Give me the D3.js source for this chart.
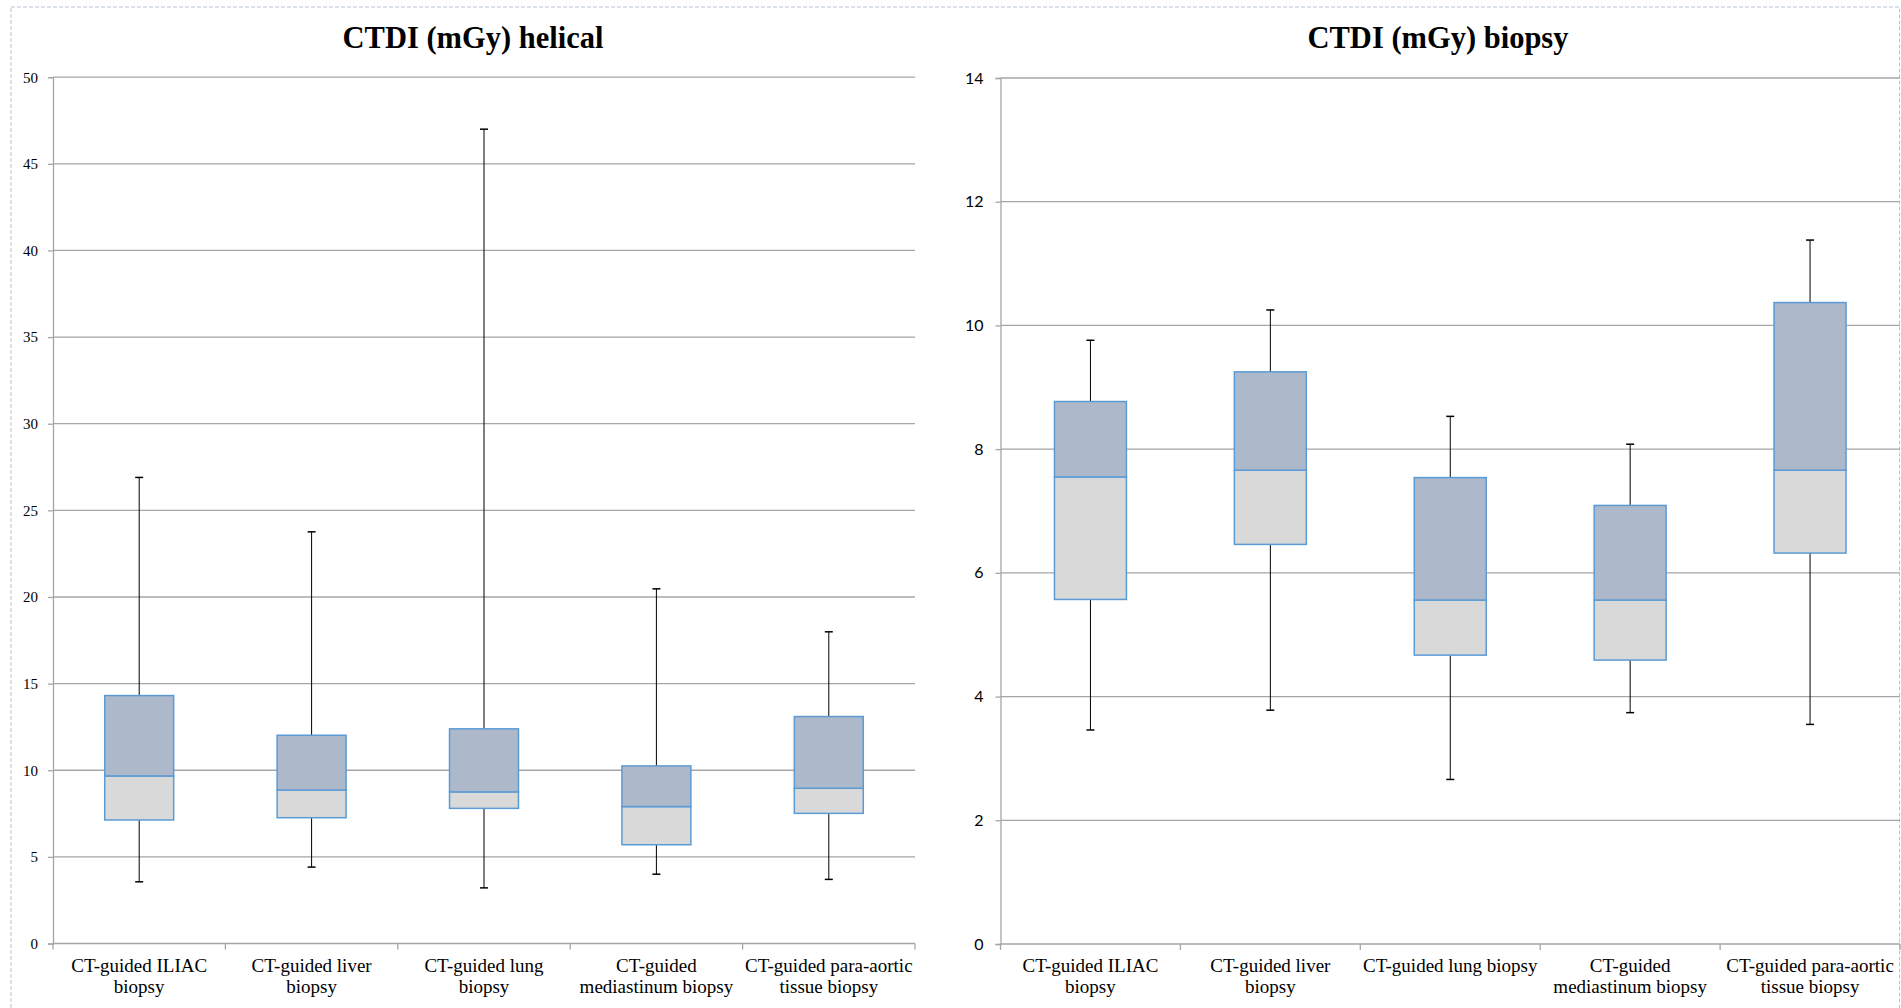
<!DOCTYPE html>
<html lang="en">
<head>
  <meta charset="UTF-8">
  <title>CTDI (mGy) helical / biopsy</title>
  <script src="https://d3js.org/d3.v7.min.js"></script>
  <style>
    body { margin: 0; background: #fff; }
    svg { display: block; }
  </style>
</head>
<body>
  <div id="chart"></div>

  <script>
    // categories (tick label lines for each panel)
    const categories = ["iliac", "liver", "lung", "mediastinum", "paraaortic"];
    const labelsHelical = [
      ["CT-guided ILIAC", "biopsy"],
      ["CT-guided liver", "biopsy"],
      ["CT-guided lung", "biopsy"],
      ["CT-guided", "mediastinum biopsy"],
      ["CT-guided para-aortic", "tissue biopsy"]
    ];
    const labelsBiopsy = [
      ["CT-guided ILIAC", "biopsy"],
      ["CT-guided liver", "biopsy"],
      ["CT-guided lung biopsy"],
      ["CT-guided", "mediastinum biopsy"],
      ["CT-guided para-aortic", "tissue biopsy"]
    ];

    // CTDI helical: min, Q1, median, Q3, max
    const helicalMin    = [3.56, 4.41, 3.21, 4.0, 3.7];
    const helicalQ1     = [7.13, 7.26, 7.8, 5.7, 7.51];
    const helicalMedian = [9.67, 8.86, 8.75, 7.9, 8.96];
    const helicalQ3     = [14.31, 12.02, 12.39, 10.25, 13.1];
    const helicalMax    = [26.9, 23.76, 47.0, 20.47, 17.99];

    // CTDI biopsy: min, Q1, median, Q3, max
    const biopsyMin    = [3.46, 3.78, 2.66, 3.74, 3.55];
    const biopsyQ1     = [5.57, 6.46, 4.67, 4.59, 6.32];
    const biopsyMedian = [7.55, 7.66, 5.56, 5.56, 7.66];
    const biopsyQ3     = [8.77, 9.25, 7.54, 7.09, 10.37];
    const biopsyMax    = [9.76, 10.25, 8.53, 8.08, 11.38];

    const helicalTicks = [0, 5, 10, 15, 20, 25, 30, 35, 40, 45, 50];
    const biopsyTicks  = [0, 2, 4, 6, 8, 10, 12, 14];

    const W = 1901, H = 1008;
    const svg = d3.select("#chart").append("svg")
      .attr("width", W).attr("height", H);

    // outer frame
    svg.append("rect")
      .attr("x", 11).attr("y", 7)
      .attr("width", 1888.5).attr("height", H + 10)
      .attr("fill", "none")
      .attr("stroke", "#b8c3d4")
      .attr("stroke-width", 1)
      .attr("stroke-dasharray", "4,2");

    function panel(opt) {
      const rows = categories.map((c, i) => ({
        key: c, lines: opt.labels[i],
        min: opt.min[i], q1: opt.q1[i], med: opt.median[i], q3: opt.q3[i], max: opt.max[i]
      }));

      const x = d3.scaleBand().domain(categories).range([opt.left, opt.right]).paddingInner(0).paddingOuter(0);
      const y = d3.scaleLinear().domain([0, opt.ticks[opt.ticks.length - 1]]).range([opt.bottom, opt.top]);

      const g = svg.append("g");

      // gridlines
      g.selectAll(".grid").data(opt.ticks.slice(1)).enter().append("line")
        .attr("x1", opt.left).attr("x2", opt.right)
        .attr("y1", d => y(d)).attr("y2", d => y(d))
        .attr("stroke", "#a6a6a6").attr("stroke-width", 1.3);

      // y axis
      const yAxis = d3.axisLeft(y).tickValues(opt.ticks).tickSize(5).tickPadding(opt.yPad).tickFormat(d3.format("d"));
      const ya = g.append("g").attr("transform", `translate(${opt.left},0)`).call(yAxis);
      ya.select(".domain").attr("stroke", "#a6a6a6").attr("stroke-width", 1.3);
      ya.selectAll(".tick line").attr("stroke", "#a6a6a6").attr("stroke-width", 1.3);
      ya.selectAll("text")
        .style("font-family", opt.yFont).style("font-size", opt.yFontSize + "px").attr("fill", "#000");

      // x axis line and boundary ticks
      g.append("line")
        .attr("x1", opt.left).attr("x2", opt.right)
        .attr("y1", y(0)).attr("y2", y(0))
        .attr("stroke", "#a6a6a6").attr("stroke-width", 1.3);
      const bounds = categories.map(c => x(c)).concat([opt.right]);
      g.selectAll(".xtick").data(bounds).enter().append("line")
        .attr("x1", d => d).attr("x2", d => d)
        .attr("y1", y(0)).attr("y2", y(0) + 6)
        .attr("stroke", "#a6a6a6").attr("stroke-width", 1.3);

      // category labels
      const lab = g.selectAll(".xlab").data(rows).enter().append("text")
        .attr("x", d => x(d.key) + x.bandwidth() / 2)
        .attr("y", y(0) + 28)
        .attr("text-anchor", "middle")
        .style("font-family", "'Liberation Serif', 'Times New Roman', serif")
        .style("font-size", "19px")
        .attr("fill", "#000");
      lab.each(function(d) {
        d3.select(this).selectAll("tspan").data(d.lines).enter().append("tspan")
          .attr("x", x(d.key) + x.bandwidth() / 2)
          .attr("dy", (l, i) => i === 0 ? 0 : 21)
          .text(l => l);
      });

      const bw = x.bandwidth() * 0.4;
      const cx = d => x(d.key) + x.bandwidth() / 2;

      // whiskers
      g.selectAll(".wup").data(rows).enter().append("line")
        .attr("x1", cx).attr("x2", cx)
        .attr("y1", d => y(d.q3)).attr("y2", d => y(d.max))
        .attr("stroke", "#000").attr("stroke-width", 1);
      g.selectAll(".wlo").data(rows).enter().append("line")
        .attr("x1", cx).attr("x2", cx)
        .attr("y1", d => y(d.q1)).attr("y2", d => y(d.min))
        .attr("stroke", "#000").attr("stroke-width", 1);
      ["max", "min"].forEach(k => {
        g.selectAll(".cap" + k).data(rows).enter().append("line")
          .attr("x1", d => cx(d) - 4).attr("x2", d => cx(d) + 4)
          .attr("y1", d => y(d[k])).attr("y2", d => y(d[k]))
          .attr("stroke", "#000").attr("stroke-width", 1.5);
      });

      // lower box (Q1 - median)
      g.selectAll(".blo").data(rows).enter().append("rect")
        .attr("x", d => cx(d) - bw / 2).attr("width", bw)
        .attr("y", d => y(d.med)).attr("height", d => y(d.q1) - y(d.med))
        .attr("fill", "#d9d9d9").attr("stroke", "#5b9bd5").attr("stroke-width", 1.5);
      // upper box (median - Q3)
      g.selectAll(".bup").data(rows).enter().append("rect")
        .attr("x", d => cx(d) - bw / 2).attr("width", bw)
        .attr("y", d => y(d.q3)).attr("height", d => y(d.med) - y(d.q3))
        .attr("fill", "#adb9ca").attr("stroke", "#5b9bd5").attr("stroke-width", 1.5);

      // title
      svg.append("text")
        .attr("x", opt.titleX).attr("y", 48)
        .attr("text-anchor", "middle")
        .style("font-family", "'Liberation Serif', 'Times New Roman', serif")
        .style("font-size", "30.5px").style("font-weight", "bold")
        .attr("fill", "#000")
        .text(opt.title);
    }

    panel({
      title: "CTDI (mGy) helical", titleX: 473,
      left: 53, right: 915, top: 77.2, bottom: 943.5,
      labels: labelsHelical, ticks: helicalTicks,
      min: helicalMin, q1: helicalQ1, median: helicalMedian, q3: helicalQ3, max: helicalMax,
      yFont: "'Liberation Serif', 'Times New Roman', serif", yFontSize: 15, yPad: 10
    });

    panel({
      title: "CTDI (mGy) biopsy", titleX: 1438,
      left: 1000.5, right: 1900, top: 78, bottom: 944,
      labels: labelsBiopsy, ticks: biopsyTicks,
      min: biopsyMin, q1: biopsyQ1, median: biopsyMedian, q3: biopsyQ3, max: biopsyMax,
      yFont: "Lato, 'Liberation Sans', sans-serif", yFontSize: 16, yPad: 12
    });
  </script>
</body>
</html>
